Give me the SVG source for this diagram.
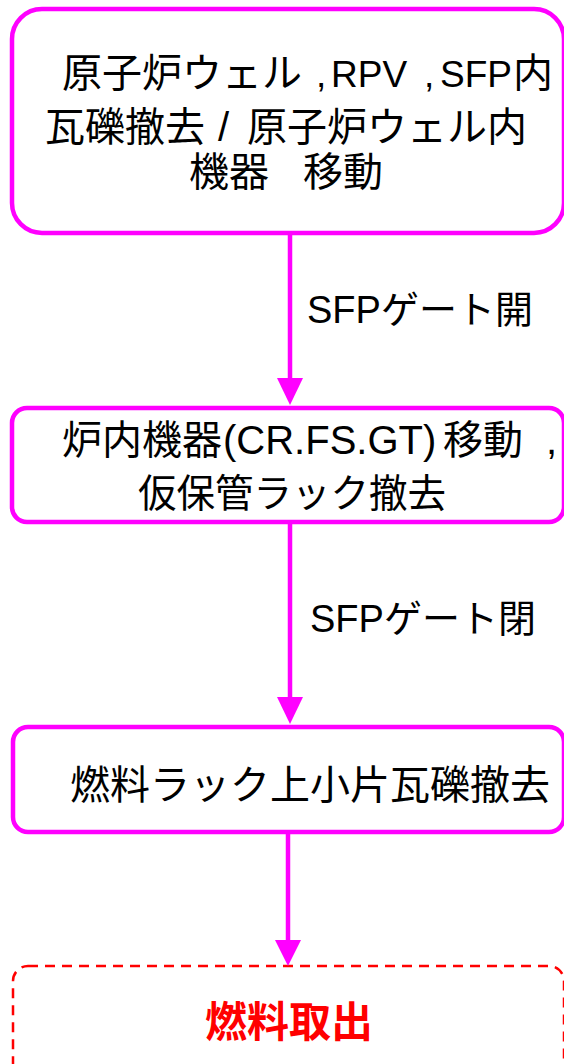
<svg xmlns="http://www.w3.org/2000/svg" width="564" height="1064" viewBox="0 0 564 1064">
<defs>
<style>
.box{fill:#FFFFFF;stroke:#FF00FF;stroke-width:4.5}
.final{fill:#FFFFFF;stroke:#FF0000;stroke-width:2.5;stroke-dasharray:10 7}
.t{font-family:"Liberation Sans","Noto Sans CJK JP",sans-serif;font-size:40px;fill:#000000}
.lat{font-size:37px}
.lbl{font-family:"Liberation Sans","Noto Sans CJK JP",sans-serif;font-size:38px;fill:#000000}
.ft{font-family:"Noto Sans CJK JP",sans-serif;font-size:42px;font-weight:bold;fill:#FF0000}
.conn{stroke:#FF00FF;stroke-width:4.5;fill:none}
.head{fill:#FF00FF}
</style>
</defs>
<rect width="564" height="1064" fill="#FFFFFF"/>
<g id="node1">
<rect class="box" x="12" y="9" width="552" height="224" rx="30" ry="30"/>
<text class="t" y="87"><tspan x="62">原子炉ウェル</tspan><tspan class="lat" x="316">,</tspan><tspan class="lat" x="331">RPV</tspan><tspan class="lat" x="424">,</tspan><tspan class="lat" x="440">SFP</tspan><tspan x="513">内</tspan></text>
<text class="t" y="141"><tspan x="45">瓦礫撤去</tspan><tspan x="218">/</tspan><tspan x="247">原子炉ウェル内</tspan></text>
<text class="t" y="186"><tspan x="189">機器</tspan><tspan x="303">移動</tspan></text>
</g>
<g id="node2">
<rect class="box" x="12" y="408" width="552" height="114" rx="15" ry="15"/>
<text class="t" y="454"><tspan x="62">炉内機器</tspan><tspan x="223">(CR.FS.GT)</tspan><tspan x="443">移動</tspan><tspan x="546">,</tspan></text>
<text class="t" y="507" x="138" style="font-size:38.5px">仮保管ラック撤去</text>
</g>
<g id="node3">
<rect class="box" x="13" y="727" width="551" height="105" rx="15" ry="15"/>
<text class="t" y="799" x="70">燃料ラック上小片瓦礫撤去</text>
</g>
<g id="node4">
<rect class="final" x="13" y="966" width="551" height="120" rx="15" ry="15"/>
<text class="ft" x="289" y="1037" text-anchor="middle">燃料取出</text>
</g>
<g id="connectors">
<line class="conn" x1="290" y1="233" x2="290" y2="382"/>
<polygon class="head" points="277,378 303,378 290,405"/>
<text class="lbl" x="307" y="323">SFPゲート開</text>
<line class="conn" x1="290" y1="522" x2="290" y2="700"/>
<polygon class="head" points="277,697 303,697 290,724"/>
<text class="lbl" x="310" y="632">SFPゲート閉</text>
<line class="conn" x1="288" y1="832" x2="288" y2="943"/>
<polygon class="head" points="275,940 301,940 288,966"/>
</g>
</svg>
